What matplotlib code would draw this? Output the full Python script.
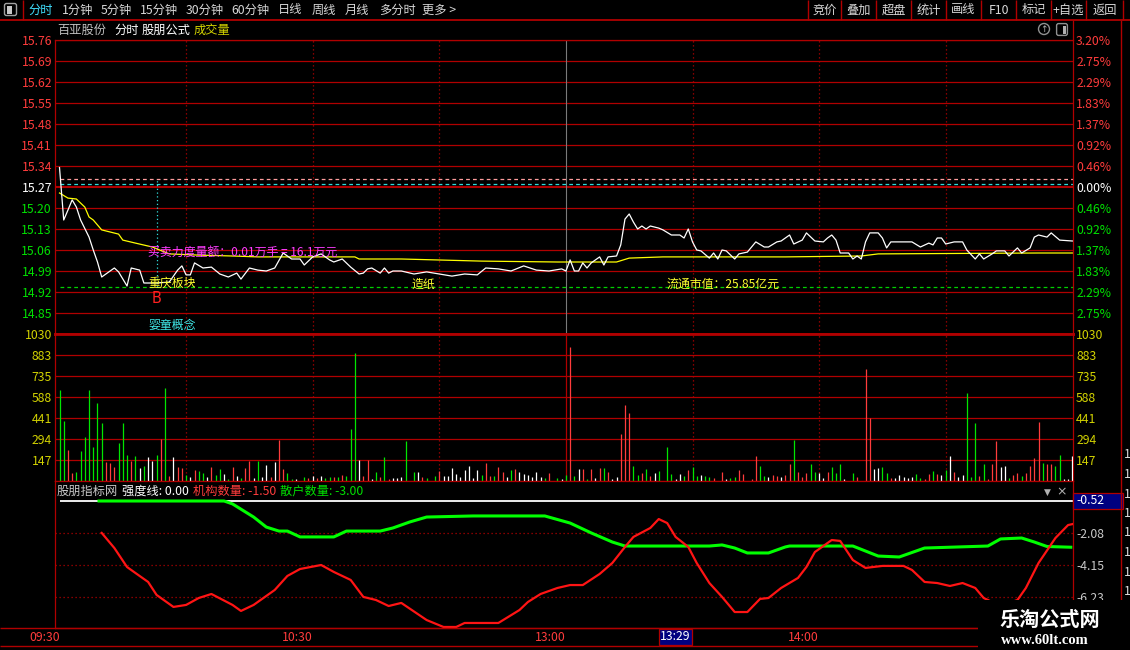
import matplotlib
matplotlib.use('Agg')
import matplotlib.pyplot as plt
from matplotlib.patches import Rectangle, FancyBboxPatch, Circle
from matplotlib.transforms import blended_transform_factory

plt.rcParams['font.family'] = ['Noto Sans CJK SC', 'DejaVu Sans']
plt.rcParams['axes.unicode_minus'] = False

# ---------------- data ----------------
pre_close = 15.27
price_ticks = [15.76, 15.69, 15.62, 15.55, 15.48, 15.41, 15.34, 15.27,
               15.20, 15.13, 15.06, 14.99, 14.92, 14.85]
price_tick_labels = ['15.76', '15.69', '15.62', '15.55', '15.48', '15.41', '15.34', '15.27',
                     '15.20', '15.13', '15.06', '14.99', '14.92', '14.85']
pct_tick_labels = ['3.20%', '2.75%', '2.29%', '1.83%', '1.37%', '0.92%', '0.46%', '0.00%',
                   '0.46%', '0.92%', '1.37%', '1.83%', '2.29%', '2.75%']

price_minutes = [
    0, 1, 2, 3, 4, 5, 7, 8, 9, 10,
    13, 14, 16, 17, 19, 20, 23, 26, 28, 29,
    30, 31, 32, 34, 36, 38, 40, 42, 43, 45,
    47, 49, 51, 53, 55, 57, 58, 60, 62, 64,
    65, 67, 69, 71, 72, 73, 74, 76, 77, 78,
    79, 81, 84, 87, 90, 93, 96, 99, 101, 104,
    107, 110, 113, 116, 119, 120, 121, 122, 123, 124,
    125, 126, 128, 129, 130, 132, 133, 134, 135, 136,
    137, 138, 139, 140, 142, 143, 145, 147, 148, 149,
    150, 151, 152, 154, 155, 156, 157, 158, 160, 161,
    163, 165, 167, 168, 170, 171, 173, 174, 176, 177,
    179, 181, 182, 183, 184, 185, 187, 188, 189, 190,
    191, 192, 194, 195, 196, 197, 202, 204, 206, 207,
    208, 209, 210, 212, 214, 215, 217, 218, 219, 221,
    222, 224, 225, 227, 228, 230, 231, 232, 234, 235,
    237, 240]
price_values = [
    15.335, 15.16, 15.193, 15.227, 15.203, 15.16, 15.103, 15.06, 15.02, 14.97,
    15.00, 14.987, 14.94, 15.00, 14.993, 14.95, 14.95, 14.953, 14.993, 15.007,
    14.977, 14.977, 15.017, 15.00, 15.003, 14.98, 14.97, 14.983, 14.963, 15.00,
    14.993, 14.99, 15.00, 15.05, 15.03, 15.03, 15.01, 15.037, 15.047, 15.027,
    15.02, 15.03, 15.003, 14.98, 14.983, 14.997, 15.00, 14.983, 15.00, 14.983,
    14.99, 14.99, 14.98, 14.987, 14.98, 14.973, 14.98, 14.977, 15.00, 14.997,
    14.99, 15.007, 14.993, 14.99, 14.997, 14.99, 15.027, 14.99, 14.99, 15.017,
    15.00, 15.017, 15.037, 15.01, 15.037, 15.04, 15.077, 15.163, 15.18, 15.153,
    15.13, 15.14, 15.13, 15.14, 15.133, 15.127, 15.11, 15.11, 15.10, 15.13,
    15.087, 15.06, 15.057, 15.033, 15.05, 15.03, 15.06, 15.057, 15.03, 15.047,
    15.053, 15.087, 15.07, 15.07, 15.087, 15.09, 15.11, 15.08, 15.093, 15.117,
    15.09, 15.087, 15.10, 15.11, 15.093, 15.05, 15.05, 15.03, 15.04, 15.03,
    15.087, 15.117, 15.117, 15.10, 15.067, 15.087, 15.087, 15.07, 15.083, 15.077,
    15.10, 15.10, 15.08, 15.087, 15.087, 15.06, 15.03, 15.047, 15.03, 15.047,
    15.057, 15.057, 15.04, 15.067, 15.05, 15.067, 15.103, 15.11, 15.103, 15.117,
    15.093, 15.09]

avg_minutes = [0, 2, 4, 6, 7, 8, 10, 14, 15, 18, 22, 26, 33, 41, 47, 70, 71, 81,
               100, 118, 132, 135, 143, 172, 190, 194, 232, 240]
avg_values = [15.25, 15.233, 15.23, 15.203, 15.17, 15.16, 15.127, 15.113, 15.093, 15.083,
              15.07, 15.047, 15.043, 15.04, 15.037, 15.037, 15.03, 15.03,
              15.023, 15.02, 15.02, 15.033, 15.037, 15.037, 15.04, 15.047, 15.05, 15.05]

level_pink = 15.297
level_cyan = 15.28
level_green = 14.937
signal_minute = 23

vol_values = [
    637, 422, 217, 58, 63, 210, 308, 637, 240, 546,
    406, 133, 128, 100, 266, 406, 182, 140, 175, 93,
    105, 168, 140, 182, 294, 651, 35, 168, 98, 93,
    42, 28, 77, 70, 56, 28, 98, 42, 84, 49,
    14, 98, 35, 21, 91, 140, 21, 140, 28, 112,
    28, 133, 287, 84, 56, 14, 14, 0, 28, 21,
    35, 21, 35, 21, 28, 28, 28, 42, 35, 364,
    896, 147, 35, 147, 14, 63, 28, 168, 14, 21,
    21, 28, 280, 0, 63, 63, 28, 21, 0, 35,
    70, 35, 35, 91, 49, 28, 77, 105, 21, 77,
    42, 126, 35, 35, 98, 63, 28, 77, 84, 63,
    49, 42, 28, 63, 28, 21, 56, 0, 21, 14,
    42, 938, 35, 84, 84, 14, 84, 21, 91, 91,
    63, 14, 28, 329, 532, 476, 105, 42, 56, 84,
    35, 56, 70, 0, 238, 49, 14, 49, 35, 77,
    98, 35, 42, 35, 28, 21, 0, 63, 14, 21,
    28, 77, 49, 0, 14, 175, 105, 35, 28, 42,
    35, 28, 42, 119, 287, 63, 28, 56, 119, 63,
    56, 21, 63, 98, 56, 119, 14, 0, 56, 28,
    0, 784, 441, 84, 91, 98, 56, 21, 21, 42,
    28, 21, 28, 49, 21, 14, 49, 70, 49, 42,
    77, 175, 63, 28, 42, 616, 28, 406, 35, 119,
    14, 119, 280, 98, 105, 21, 42, 56, 35, 56,
    105, 161, 413, 126, 119, 119, 105, 182, 14, 14,
    175]
vol_dirs = (
    "g g r r g g g g g g  g r r r g g g r g w  g w w g r g r w r r  g w r g g w r g g w "
    "g r w g r r w g w w  r w r r g g w w g r  w r w g g r g r g g  g w r r w g r g r w "
    "w w g w g w r g w g  r w w w w w w w w w  g r r g r r w g r w  w w w w w g r w g w "
    "g r g w r g r w r g  r w w r r r g g r g  r w g w g g w w g r  g g w g g r w r w g "
    "g r r w r r g g w r  r w r r g r r r g g  w w r g g g w w g r  w r r w w g g r w w "
    "w w w g g r r g r w  g w r w w g g g r g  r r r w w g r r g r  r r r g r r g g w w "
    "w").split()

vol_ticks = [147, 294, 441, 588, 735, 883, 1030]
vol_tick_labels = ['147', '294', '441', '588', '735', '883', '1030']

strength_value = 0.0
retail_minutes = [9, 39, 41, 46, 49, 52, 54, 57, 65, 68, 76, 79, 83, 87, 98, 115, 121, 126, 131, 134,
                  154, 157, 160, 163, 168, 172, 173, 188, 194, 199, 205, 213, 220, 223, 228, 231, 234, 240]
retail_values = [0, 0, -0.19, -1.04, -1.69, -1.95, -1.95, -2.33, -2.33, -1.95,
                 -1.95, -1.75, -1.36, -1.04, -0.97, -0.97, -1.43, -2.07, -2.66, -2.92,
                 -2.92, -2.85, -3.05, -3.37, -3.37, -2.98, -2.92, -2.92, -3.57, -3.63,
                 -3.05, -2.98, -2.92, -2.46, -2.40, -2.66, -2.95, -3.00]
inst_minutes = [10, 13, 16, 18, 21, 23, 27, 30, 33, 36, 41, 43, 46, 51, 54, 57, 62, 65, 69, 72,
                75, 78, 81, 87, 91, 94, 96, 104, 109, 111, 114, 118, 121, 124, 128, 131, 134, 136, 140, 142,
                144, 146, 149, 151, 154, 157, 160, 163, 166, 168, 171, 175, 177, 179, 183, 185, 188, 191, 195, 200,
                202, 205, 208, 211, 214, 217, 219, 223, 227, 229, 232, 236, 239, 240]
inst_values = [-2.07, -3.05, -4.28, -4.67, -5.25, -6.09, -6.87, -6.74, -6.29, -6.03,
               -6.74, -7.13, -6.74, -5.77, -4.86, -4.41, -4.15, -4.60, -5.12, -6.22,
               -6.42, -6.81, -6.61, -7.72, -8.17, -8.17, -7.91, -7.91, -7.07, -6.55,
               -6.03, -5.64, -5.45, -5.45, -4.73, -4.02, -2.98, -2.33, -1.75, -1.17,
               -1.43, -2.33, -2.98, -4.02, -5.32, -6.22, -7.20, -7.20, -6.35, -6.29,
               -5.64, -4.99, -4.28, -3.31, -2.53, -2.59, -3.83, -4.34, -4.21, -4.21,
               -4.47, -5.25, -5.32, -5.51, -5.32, -5.64, -6.29, -6.81, -6.42, -5.64,
               -4.02, -2.40, -1.56, -1.50]
ind_ticks = [-2.08, -4.15, -6.23]
ind_tick_labels = ['-2.08', '-4.15', '-6.23']

time_ticks = [0, 60, 120, 180]
time_labels = ['09:30', '10:30', '13:00', '14:00']
half_hour_grid = [30, 60, 90, 150, 180, 210]
lunch_minute = 120

toolbar_left = ['分时', '1分钟', '5分钟', '15分钟', '30分钟', '60分钟', '日线', '周线', '月线', '多分时', '更多 >']
toolbar_right = ['竞价', '叠加', '超盘', '统计', '画线', 'F10', '标记', '+自选', '返回']

# ---------------- style ----------------
W, H = 1130, 650
GRID = '#b00000'
RED = '#ff3c3c'
GREEN = '#00e000'
VOLY = '#d2d200'
BAR_COL = {'r': '#ff3c3c', 'g': '#00e600', 'w': '#ffffff'}
FS = 8.8

fig = plt.figure(figsize=(W / 100, H / 100), dpi=100, facecolor='black')


def px_axes(x0, y0, x1, y1, z=1):
    return fig.add_axes([x0 / W, 1 - y1 / H, (x1 - x0) / W, (y1 - y0) / H], zorder=z)


X_LEFT, X_RIGHT = 55, 1073
T0_PX, PX_PER_MIN = 59.5, 4.22
t_lo = (X_LEFT - T0_PX) / PX_PER_MIN
t_hi = (X_RIGHT - T0_PX) / PX_PER_MIN


def style(ax):
    ax.set_facecolor('black')
    for s in ax.spines.values():
        s.set_color(GRID)
        s.set_linewidth(0.9)
    ax.set_xlim(t_lo, t_hi)
    ax.set_xticks([])
    ax.tick_params(length=0)


# ---------- price panel ----------
axp = px_axes(X_LEFT, 40, X_RIGHT, 334)
style(axp)
axp.set_ylim(14.78, 15.76)
for v in price_ticks:
    axp.axhline(v, color=GRID, lw=1.5 if abs(v - pre_close) < 1e-9 else 0.9, zorder=1)
axp.spines['bottom'].set_linewidth(2.0)
for t in half_hour_grid:
    axp.axvline(t, color=GRID, lw=0.9, ls=(0, (1, 2.2)), zorder=1)
axp.axvline(lunch_minute, color='#7a7a7a', lw=0.8, zorder=1)

axp.set_yticks(price_ticks)
axp.set_yticklabels(price_tick_labels, fontsize=FS)
axp.tick_params(axis='y', pad=2.2, length=0)


def level_color(v):
    if abs(v - pre_close) < 1e-9:
        return 'white'
    return RED if v > pre_close else GREEN


for lab, v in zip(axp.get_yticklabels(), price_ticks):
    lab.set_color(level_color(v))

axr = axp.twinx()
axr.set_ylim(axp.get_ylim())
axr.set_yticks(price_ticks)
axr.set_yticklabels(pct_tick_labels, fontsize=FS)
axr.tick_params(axis='y', pad=2.2, length=0)
for s in axr.spines.values():
    s.set_visible(False)
for lab, v in zip(axr.get_yticklabels(), price_ticks):
    lab.set_color(level_color(v))

axp.hlines(level_pink, 0, t_hi, color='#ff9c9c', lw=0.9, ls=(0, (3, 2.5)), zorder=2)
axp.hlines(level_cyan, 0, t_hi, color='#30dcdc', lw=0.9, ls=(0, (3, 2.5)), zorder=2)
axp.hlines(level_green, 0, t_hi, color='#00d000', lw=0.9, ls=(0, (3, 2.5)), zorder=2)
axp.vlines(signal_minute, level_green, level_pink, color='#30dcdc', lw=0.9, ls=(0, (1, 2)), zorder=2)

axp.plot(avg_minutes, avg_values, color='#ffff00', lw=0.9, zorder=3)
axp.plot(price_minutes, price_values, color='white', lw=0.9, zorder=4)

axp.text(21, 15.053, '买卖力度量额：0.01万手 = 16.1万元', color='#ff3cff', fontsize=8.6,
         ha='left', va='center', zorder=5)
axp.text(21, 14.95, '重庆板块', color='#ffff30', fontsize=8.6, ha='left', va='center', zorder=5)
axp.text(signal_minute, 14.897, 'B', color='#ff2020', fontsize=10.5, ha='center', va='center',
         family='DejaVu Sans', zorder=5)
axp.text(21, 14.807, '婴童概念', color='#40e8e8', fontsize=8.6, ha='left', va='center', zorder=5)
axp.text(83.4, 14.947, '造纸', color='#ffff30', fontsize=8.6, ha='left', va='center', zorder=5)
axp.text(143.8, 14.947, '流通市值：25.85亿元', color='#ffff30', fontsize=8.6, ha='left', va='center', zorder=5)

# ---------- volume panel ----------
axv = px_axes(X_LEFT, 334, X_RIGHT, 481)
style(axv)
axv.set_ylim(0, 1030)
for v in vol_ticks[:-1]:
    axv.axhline(v, color=GRID, lw=0.9, zorder=1)
for t in half_hour_grid:
    axv.axvline(t, color=GRID, lw=0.9, ls=(0, (1, 2.2)), zorder=1)
axv.axvline(lunch_minute, color=GRID, lw=0.9, zorder=1)
axv.spines['top'].set_linewidth(2.0)
axv.vlines(list(range(len(vol_values))), 0, vol_values,
           colors=[BAR_COL[c] for c in vol_dirs], lw=0.9, zorder=3)
axv.set_yticks(vol_ticks)
axv.set_yticklabels(vol_tick_labels, fontsize=FS)
axv.tick_params(axis='y', labelleft=True, labelright=True, pad=2.2, length=0, labelcolor=VOLY)

# ---------- indicator panel ----------
axi = px_axes(X_LEFT, 481, X_RIGHT, 628)
style(axi)
axi.set_ylim(-8.236, 1.297)
for v in ind_ticks:
    axi.axhline(v, color=GRID, lw=0.9, ls=(0, (1, 2.2)), zorder=1)
axi.hlines(strength_value, 0, t_hi, color='white', lw=1.3, zorder=2)
axi.plot(retail_minutes, retail_values, color='#00ff00', lw=2.2, zorder=3, solid_capstyle='butt')
axi.plot(inst_minutes, inst_values, color='#ff1414', lw=1.6, zorder=4)
axi.yaxis.tick_right()
axi.set_yticks(ind_ticks)
axi.set_yticklabels(ind_tick_labels, fontsize=FS)
axi.tick_params(axis='y', pad=2.2, length=0, labelcolor='#c8c8c8')
axi.set_xticks(time_ticks)
axi.set_xticklabels(time_labels, fontsize=FS, color=RED, ha='right')
axi.tick_params(axis='x', pad=2.0, length=0)

axi.text(0.002, 0.99, '', transform=axi.transAxes)

# ---------- overlay (chrome) ----------
bg = px_axes(0, 0, W, H, z=10)
bg.set_xlim(0, W)
bg.set_ylim(H, 0)
bg.axis('off')

# toolbar
bg.hlines(20, 0, W, color=GRID, lw=1.3)
bg.vlines(23, 0, 20, color=GRID, lw=1.0)
bg.add_patch(FancyBboxPatch((5, 4), 11, 11, boxstyle='round,pad=0.5,rounding_size=2',
                            fc='none', ec='#a0a0a0', lw=1.0))
bg.add_patch(Rectangle((6.5, 5.5), 5, 8, fc='#c8c8c8', ec='none'))
left_x = [28, 62, 101, 140, 186, 231, 278, 312, 345, 379, 422]
for i, (lab, x) in enumerate(zip(toolbar_left, left_x)):
    bg.text(x, 10, lab, color='#40e0ff' if i == 0 else '#d8d8d8', fontsize=FS,
            ha='left', va='center')
seps = [808, 841, 876, 911, 946, 981, 1016, 1051, 1086, 1123]
bg.vlines(seps, 0, 20, color=GRID, lw=1.0)
for i, lab in enumerate(toolbar_right):
    bg.text((seps[i] + seps[i + 1]) / 2, 10, lab, color='#d8d8d8', fontsize=FS, ha='center', va='center')

# header line
bg.text(57, 30, '百亚股份', color='#c0c0c0', fontsize=FS, ha='left', va='center')
bg.text(114, 30, '分时', color='white', fontsize=FS, ha='left', va='center')
bg.text(142, 30, '股朋公式', color='white', fontsize=FS, ha='left', va='center')
bg.text(194, 30, '成交量', color='#d2d200', fontsize=FS, ha='left', va='center')
bg.vlines(1072.5, 20, 40, color=GRID, lw=0.9)
bg.add_patch(Circle((1044, 29), 5.5, fc='none', ec='#909090', lw=1.0))
bg.text(1044, 29, '↑', color='#b0b0b0', fontsize=6.5, ha='center', va='center', family='DejaVu Sans')
bg.add_patch(FancyBboxPatch((1057, 24), 10, 11, boxstyle='round,pad=0.4,rounding_size=2',
                            fc='none', ec='#909090', lw=1.0))
bg.add_patch(Rectangle((1062.5, 25.5), 3.5, 8, fc='#b0b0b0', ec='none'))

# indicator header
bg.text(57, 491, '股朋指标网', color='#c8c8c8', fontsize=FS, ha='left', va='center')
bg.text(122, 491, '强度线: 0.00', color='white', fontsize=FS, ha='left', va='center')
bg.text(193, 491, '机构数量: -1.50', color=RED, fontsize=FS, ha='left', va='center')
bg.text(280, 491, '散户数量: -3.00', color=GREEN, fontsize=FS, ha='left', va='center')
bg.text(1047, 492, '▼', color='#b0b0b0', fontsize=6.5, ha='center', va='center', family='DejaVu Sans')
bg.text(1062, 492, '×', color='#b0b0b0', fontsize=9, ha='center', va='center', family='DejaVu Sans')

# cursor value box on indicator axis
bg.add_patch(Rectangle((1073, 493), 50, 16, fc='#000080', ec=GRID, lw=0.9))
bg.text(1076, 501, '-0.52', color='white', fontsize=FS, ha='left', va='center')

# right sidebar border
bg.vlines(1121, 20, 600, color=GRID, lw=1.0)
for k in range(8):
    bg.text(1124, 455 + 19.5 * k, '1', color='#e0e0e0', fontsize=FS, ha='left', va='center')

# time axis frame
bg.hlines([628, 646], 0, 978, color=GRID, lw=1.0)
bg.add_patch(Rectangle((659, 629), 33, 16, fc='#000080', ec=GRID, lw=0.9))
bg.text(675.5, 637, '13:29', color='white', fontsize=FS, ha='center', va='center')

# watermark
bg.add_patch(Rectangle((978, 600), 152, 50, fc='black', ec='none', zorder=5))
bg.text(1050, 619, '乐淘公式网', color='white', fontsize=14.5, weight='bold',
        ha='center', va='center', zorder=6)
bg.text(1045, 641, 'www.60lt.com', color='white', fontsize=10.5, weight='bold',
        family=['Liberation Serif', 'DejaVu Serif'], ha='center', va='center', zorder=6)

fig.savefig('out.png', dpi=100, facecolor='black')
